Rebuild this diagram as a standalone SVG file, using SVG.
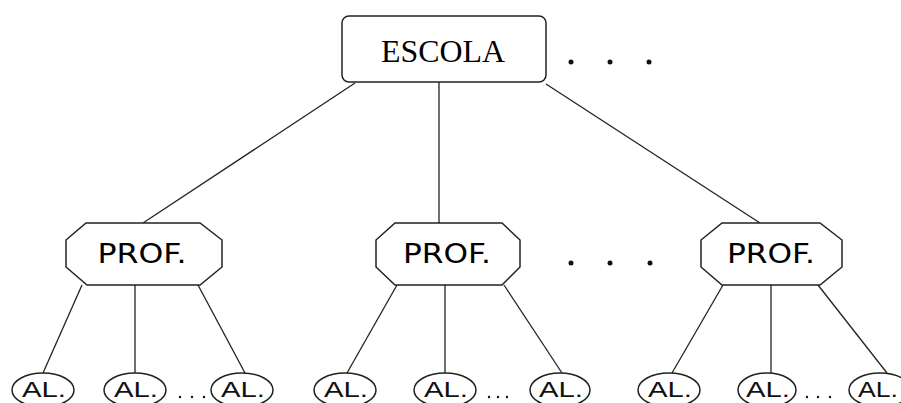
<svg xmlns="http://www.w3.org/2000/svg" width="901" height="403" viewBox="0 0 901 403">
<style>
.ln{stroke:#222;stroke-width:1.3;fill:none}
.box{fill:#fff;stroke:#222;stroke-width:1.5}
.t1{font-family:"Liberation Serif",serif;font-size:31px;fill:#000;text-anchor:middle}
.t2{font-family:"DejaVu Sans","Liberation Sans",sans-serif;font-size:27px;fill:#000;text-anchor:middle}
.t3{font-family:"Liberation Sans",Arial,sans-serif;font-size:22px;fill:#111;text-anchor:middle}
.dot{fill:#111}
</style>
<rect width="901" height="403" fill="#fff"/>
<g id="connectors">
<line class="ln" x1="355" y1="83" x2="143" y2="223"/>
<line class="ln" x1="439" y1="82" x2="439" y2="223"/>
<line class="ln" x1="546" y1="84" x2="760" y2="223"/>
<line class="ln" x1="82" y1="285" x2="43" y2="373"/>
<line class="ln" x1="135" y1="285" x2="135" y2="373"/>
<line class="ln" x1="198" y1="285" x2="245" y2="373"/>
<line class="ln" x1="397" y1="285" x2="347" y2="373"/>
<line class="ln" x1="445" y1="285" x2="445" y2="373"/>
<line class="ln" x1="504" y1="285" x2="562" y2="373"/>
<line class="ln" x1="723" y1="285" x2="672" y2="373"/>
<line class="ln" x1="771" y1="285" x2="771" y2="373"/>
<line class="ln" x1="818" y1="285" x2="887" y2="373"/>
</g>
<g id="escola">
<rect class="box" x="342" y="16" width="204" height="66" rx="7"/>
<text class="t1" x="443" y="62" textLength="124" lengthAdjust="spacingAndGlyphs">ESCOLA</text>
</g>
<g id="dots-top">
<circle class="dot" cx="571" cy="62" r="2.5"/>
<circle class="dot" cx="610" cy="62" r="2.5"/>
<circle class="dot" cx="649" cy="62" r="2.5"/>
</g>
<g id="prof1">
<polygon class="box" points="86,223 200,223 222,240 222,267 200,285 87,285 66,267 66,240"/>
<text class="t2" x="142" y="263" textLength="89" lengthAdjust="spacingAndGlyphs">PROF.</text>
</g>
<g id="prof2">
<polygon class="box" points="395,223 502,223 520,240 520,267 502,285 395,285 376,267 376,240"/>
<text class="t2" x="447" y="263" textLength="88" lengthAdjust="spacingAndGlyphs">PROF.</text>
</g>
<g id="prof3">
<polygon class="box" points="722,223 820,223 842,240 842,267 820,285 722,285 701,267 701,240"/>
<text class="t2" x="771" y="263" textLength="88" lengthAdjust="spacingAndGlyphs">PROF.</text>
</g>
<g id="dots-mid">
<circle class="dot" cx="571" cy="263" r="2.5"/>
<circle class="dot" cx="610" cy="263" r="2.5"/>
<circle class="dot" cx="650" cy="263" r="2.5"/>
</g>
<g id="al1"><ellipse class="box" cx="43" cy="390" rx="31" ry="17"/><text class="t3" x="44" y="397" textLength="44" lengthAdjust="spacingAndGlyphs">AL.</text></g>
<g id="al2"><ellipse class="box" cx="135" cy="390" rx="31" ry="17"/><text class="t3" x="136" y="397" textLength="44" lengthAdjust="spacingAndGlyphs">AL.</text></g>
<g id="al3"><ellipse class="box" cx="242" cy="390" rx="31" ry="17"/><text class="t3" x="243" y="397" textLength="44" lengthAdjust="spacingAndGlyphs">AL.</text></g>
<g id="al4"><ellipse class="box" cx="345" cy="390" rx="31" ry="17"/><text class="t3" x="346" y="397" textLength="44" lengthAdjust="spacingAndGlyphs">AL.</text></g>
<g id="al5"><ellipse class="box" cx="445" cy="390" rx="31" ry="17"/><text class="t3" x="446" y="397" textLength="44" lengthAdjust="spacingAndGlyphs">AL.</text></g>
<g id="al6"><ellipse class="box" cx="560" cy="390" rx="30" ry="17"/><text class="t3" x="561" y="397" textLength="44" lengthAdjust="spacingAndGlyphs">AL.</text></g>
<g id="al7"><ellipse class="box" cx="669" cy="390" rx="31" ry="17"/><text class="t3" x="670" y="397" textLength="44" lengthAdjust="spacingAndGlyphs">AL.</text></g>
<g id="al8"><ellipse class="box" cx="767" cy="390" rx="29" ry="17"/><text class="t3" x="768" y="397" textLength="44" lengthAdjust="spacingAndGlyphs">AL.</text></g>
<g id="al9"><ellipse class="box" cx="880" cy="390" rx="31" ry="17"/><text class="t3" x="878" y="397" textLength="40" lengthAdjust="spacingAndGlyphs">AL.</text></g>
<g id="dots-bottom">
<circle class="dot" cx="180" cy="397" r="1.2"/><circle class="dot" cx="192" cy="397" r="1.2"/><circle class="dot" cx="204" cy="397" r="1.2"/>
<circle class="dot" cx="489" cy="397" r="1.2"/><circle class="dot" cx="498" cy="397" r="1.2"/><circle class="dot" cx="507" cy="397" r="1.2"/>
<circle class="dot" cx="807" cy="397" r="1.2"/><circle class="dot" cx="818" cy="397" r="1.2"/><circle class="dot" cx="830" cy="397" r="1.2"/>
</g>
</svg>
